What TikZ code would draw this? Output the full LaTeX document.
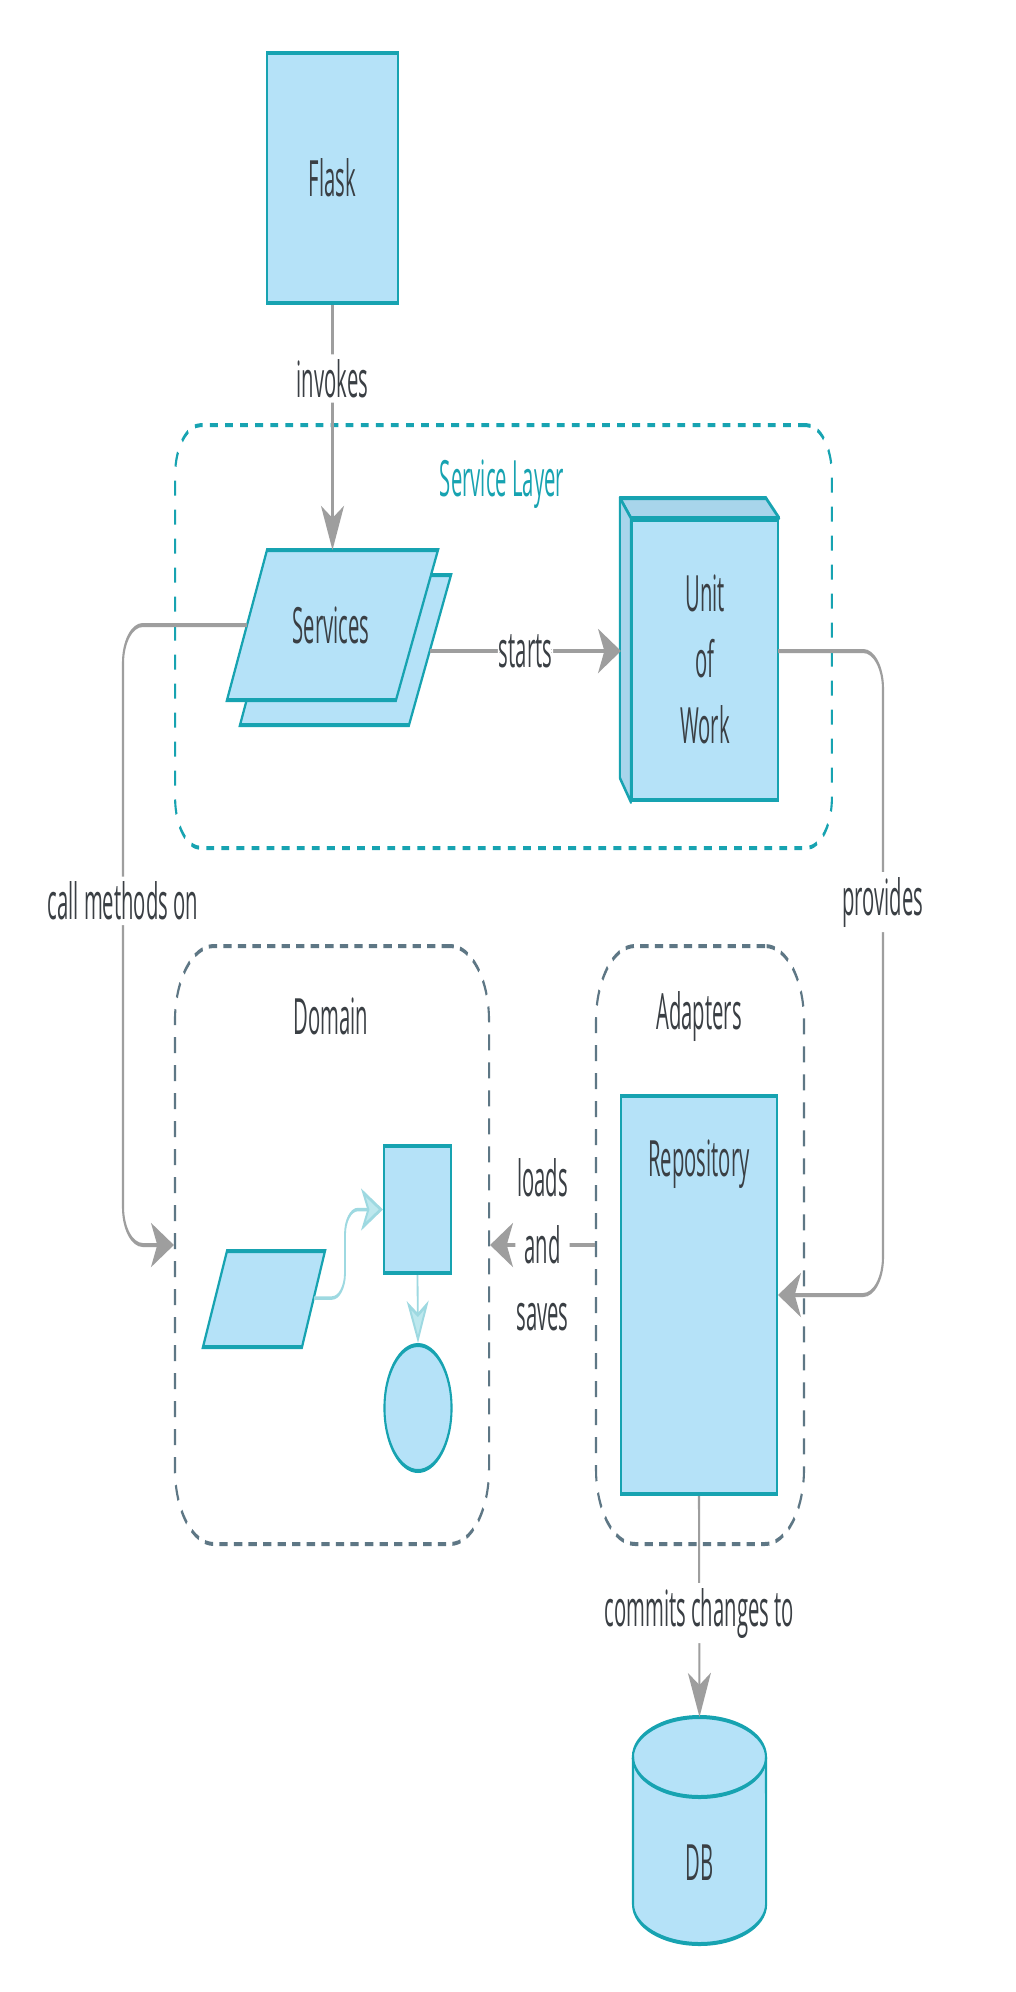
\documentclass[tikz,border=0pt]{standalone}
\usepackage{fontspec}
\setmainfont{Open Sans}[FakeStretch=0.78]
\usetikzlibrary{arrows.meta,shapes.geometric}
\definecolor{teal1}{HTML}{17A3B1}
\definecolor{fillb}{HTML}{B5E2F8}
\definecolor{sidef}{HTML}{A8D5EB}
\definecolor{grayc}{HTML}{9E9E9E}
\definecolor{slate}{HTML}{5E7785}
\definecolor{lteal}{HTML}{9ED9E1}
\definecolor{ltealfill}{HTML}{BDE8EE}
\definecolor{txt}{HTML}{3A3F44}
\tikzset{
  boxshape/.style={draw=teal1, fill=fillb, line width=4pt, inner sep=0pt},
  facestyle/.style={draw=teal1, fill=sidef, line width=4pt, line join=round},
  txtnode/.style={text=txt, inner sep=0pt, font=\fontsize{50}{66}\selectfont},
  conn/.style={draw=grayc, line width=4pt, rounded corners=38pt},
  gtip/.style={-{Stealth[length=44pt,width=44pt,inset=12pt]}},
  lconn/.style={draw=lteal, line width=3.5pt, rounded corners=25pt},
  ltip/.style={-{Stealth[length=42pt,width=42pt,inset=12pt,fill=ltealfill]}},
  lbl/.style={fill=white, text=txt, inner xsep=2pt, inner ysep=5pt, font=\fontsize{50}{67}\selectfont},
  container/.style={line width=4pt, inner sep=0pt},
}
\begin{document}
\begin{tikzpicture}
\fill[white] (0pt,0pt) rectangle (1016pt,-1992pt);
\useasboundingbox (0pt,0pt) rectangle (1016pt,-1992pt);
\begin{scope}[transform canvas={xscale=0.52}, x=1.923077pt, y=-1pt]
  % containers
  \node[container, draw=teal1, dash pattern=on 15pt off 14pt, rounded corners=50pt,
        minimum width=1263pt, minimum height=423pt] (svclayer) at (503.5,636.5) {};
  \node[txtnode, text=teal1] (svclbl) at (502,484) {Service Layer};
  \node[container, draw=slate, dash pattern=on 16pt off 12pt, rounded corners=75pt,
        minimum width=604pt, minimum height=598pt] (domain) at (332,1245) {};
  \node[txtnode] (domlbl) at (331,1016) {Domain};
  \node[container, draw=slate, dash pattern=on 16pt off 12pt, rounded corners=75pt,
        minimum width=400pt, minimum height=598pt] (adapters) at (700,1245) {};
  \node[txtnode] (adlbl) at (699,1016) {Adapters};

  % Flask
  \node[boxshape, minimum width=252pt, minimum height=250pt, txtnode] (flask) at (332.5,178) {Flask};

  % Services (stacked parallelograms)
  \filldraw[boxshape] (280,575) -- (451,575) -- (409,725) -- (240,725) -- cycle;
  \filldraw[boxshape] (267,550) -- (438,550) -- (396,700) -- (227,700) -- cycle;
  \node[txtnode] (svc) at (331,625) {Services};
  \coordinate (svcT) at (332.5,550);
  \coordinate (svcL) at (247,625);
  \coordinate (svcR) at (430,651);

  % Unit of Work (3D box)
  \node[boxshape, minimum width=281pt, minimum height=280pt] (uow) at (705,660) {};
  \filldraw[facestyle] (uow.north west) -- ++(-11,-20) -- ++(146,0) -- (uow.north east) -- cycle;
  \filldraw[facestyle] (uow.north west) -- ++(-11,-20) -- ++(0,280) -- (uow.south west) -- cycle;
  \node[txtnode, align=center] (uowtxt) at (705,659) {Unit\\of\\Work};
  \coordinate (uowL) at (621,651);
  \coordinate (uowR) at (778,651);

  % Repository
  \node[boxshape, minimum width=300pt, minimum height=398pt] (repo) at (699,1295) {};
  \node[txtnode] (repotxt) at (699,1164) {Repository};

  % Domain contents
  \filldraw[boxshape] (227,1251) -- (325,1251) -- (302,1347) -- (203,1347) -- cycle;
  \coordinate (pgR) at (314,1298);
  \node[boxshape, minimum width=129pt, minimum height=127pt] (ent) at (417.5,1209.5) {};
  \node[boxshape, ellipse, minimum width=129pt, minimum height=126pt] (vo) at (418,1408) {};

  % DB cylinder
  \filldraw[draw=teal1, fill=fillb, line width=4pt]
    (633,1757) -- (633,1904) arc[start angle=180, end angle=360, x radius=128pt, y radius=40pt]
    -- (766,1757) arc[start angle=0, end angle=180, x radius=128pt, y radius=40pt] -- cycle;
  \draw[teal1, line width=4pt] (633,1757) arc[start angle=180, end angle=360, x radius=128pt, y radius=40pt];
  \coordinate (dbtop) at (699.5,1717);
  \node[txtnode] (db) at (699.5,1863) {DB};

  % connectors
  \draw[conn, gtip] (flask.south) -- node[lbl, pos=0.3] {invokes} (svcT);
  \draw[conn, gtip] (svcL) -- (123,625) -- node[lbl, pos=0.445] {call methods on} (123,1245) -- (domain.west);
  \draw[conn, gtip] (svcR) -- node[lbl] {starts} (uowL);
  \draw[conn, gtip] (uowR) -- (883,651) -- node[lbl, pos=0.39] {provides} (883,1295) -- (repo.east);
  \draw[conn, gtip] (adapters.west) -- node[lbl, align=center] {loads\\and\\saves} (domain.east);
  \draw[conn, gtip] (repo.south) -- node[lbl, pos=0.53] {commits changes to} (dbtop);

  % domain inner connectors
  \draw[lconn, ltip] (pgR) -- (345,1298) -- (345,1209.5) -- (ent.west);
  \draw[lconn, ltip] (ent.south) -- (vo.north);
\end{scope}
\end{tikzpicture}
\end{document}
